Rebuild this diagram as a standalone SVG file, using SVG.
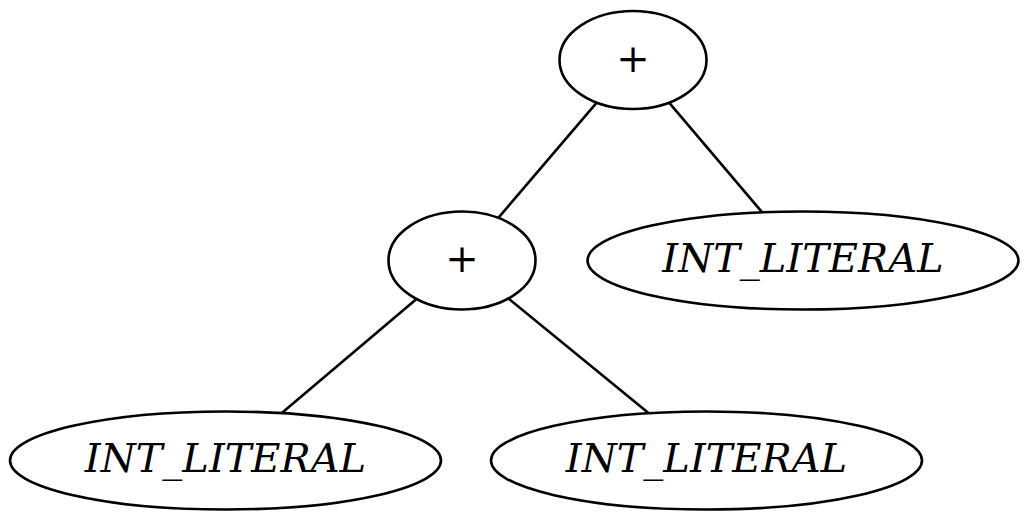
<svg xmlns="http://www.w3.org/2000/svg" width="1030" height="522" viewBox="0 0 1030 522">
<style>
.n{fill:#fff;stroke:#000;stroke-width:2.6}
.e{stroke:#000;stroke-width:2.6;fill:none}
.t{font-family:"DejaVu Serif","Liberation Serif",serif;font-size:40px;text-anchor:middle;fill:#000}
.i{font-style:italic}
</style>
<rect width="1030" height="522" fill="#fff"/>
<g id="edges">
<line class="e" x1="596.7" y1="102.6" x2="498.3" y2="217.9"/>
<line class="e" x1="669.1" y1="102.6" x2="762.2" y2="212.4"/>
<line class="e" x1="416.5" y1="299" x2="281.5" y2="413.2"/>
<line class="e" x1="508.4" y1="298.5" x2="648.8" y2="413.3"/>
</g>
<g id="plus_top">
<ellipse class="n" cx="633" cy="60" rx="73.5" ry="49"/>
<text class="t" x="633" y="71.5">+</text>
</g>
<g id="plus_mid">
<ellipse class="n" cx="462" cy="260.5" rx="73.5" ry="49"/>
<text class="t" x="462" y="272">+</text>
</g>
<g id="int_right">
<ellipse class="n" cx="803" cy="260.5" rx="215.5" ry="49"/>
<text class="t i" x="803" y="272">INT_LITERAL</text>
</g>
<g id="int_bl">
<ellipse class="n" cx="225.5" cy="460.5" rx="215.5" ry="49"/>
<text class="t i" x="225.5" y="472">INT_LITERAL</text>
</g>
<g id="int_br">
<ellipse class="n" cx="706.5" cy="460.5" rx="215.5" ry="49"/>
<text class="t i" x="706.5" y="472">INT_LITERAL</text>
</g>
</svg>
